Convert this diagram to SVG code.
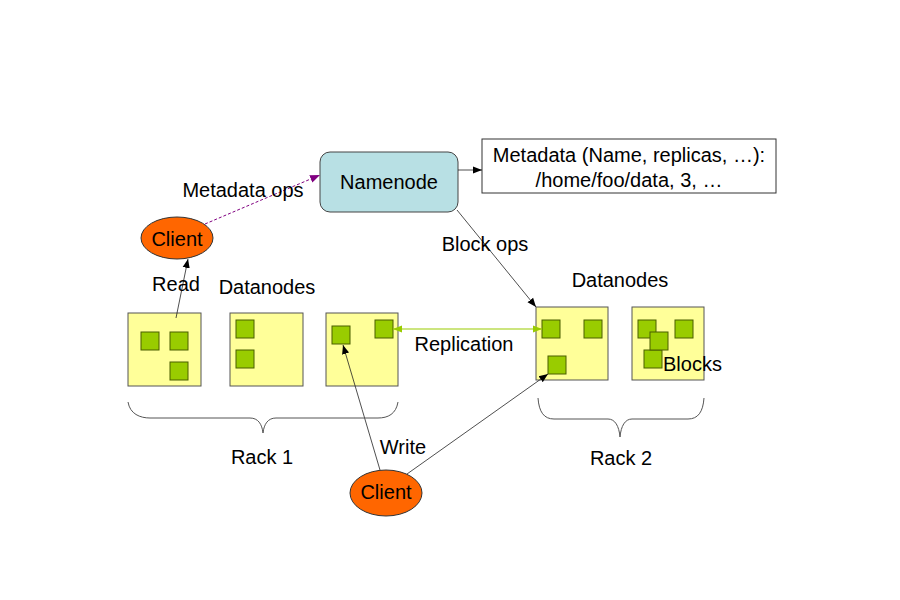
<svg xmlns="http://www.w3.org/2000/svg" width="900" height="600" viewBox="0 0 900 600">
<style>
text{font-family:"Liberation Sans",Arial,sans-serif;font-size:20px;fill:#000}
.dn{fill:#ffff99;stroke:#555;stroke-width:1}
.blk{fill:#99cc00;stroke:#4a5e00;stroke-width:1}
.cl{fill:#ff6600;stroke:#333;stroke-width:1}
.ln{stroke:#222;stroke-width:0.8;fill:none}
.br{stroke:#555;stroke-width:1;fill:none}
</style>
<defs>
<marker id="ab" viewBox="0 0 10 10" refX="10" refY="5" markerWidth="9" markerHeight="9" markerUnits="userSpaceOnUse" orient="auto"><path d="M0,1 L10,5 L0,9 z" fill="#000"/></marker>
<marker id="ap" viewBox="0 0 10 10" refX="10" refY="5" markerWidth="10" markerHeight="10" markerUnits="userSpaceOnUse" orient="auto"><path d="M0,1 L10,5 L0,9 z" fill="#800080"/></marker>
<marker id="ag" viewBox="0 0 10 10" refX="10" refY="5" markerWidth="9" markerHeight="9" markerUnits="userSpaceOnUse" orient="auto-start-reverse"><path d="M0,1 L10,5 L0,9 z" fill="#99cc00"/></marker>
</defs>
<rect width="900" height="600" fill="#fff"/>

<g id="namenode">
<rect x="320" y="152" width="138" height="60" rx="10" fill="#b8e0e4" stroke="#444"/>
<text x="389" y="189" text-anchor="middle">Namenode</text>
</g>
<g id="metadata">
<rect x="482" y="139" width="294" height="54" fill="#fff" stroke="#333"/>
<text x="629" y="162" text-anchor="middle">Metadata (Name, replicas, …):</text>
<text x="629" y="187" text-anchor="middle">/home/foo/data, 3, …</text>
</g>
<g id="client1">
<ellipse cx="177" cy="238" rx="36" ry="21" class="cl"/>
<text x="177" y="246" text-anchor="middle">Client</text>
</g>
<g id="client2">
<ellipse cx="386" cy="493" rx="36" ry="23" class="cl"/>
<text x="386" y="499" text-anchor="middle">Client</text>
</g>

<g id="rack1">
<g id="dn1"><rect x="128" y="313" width="73" height="73" class="dn"/>
<rect x="141" y="332" width="18" height="18" class="blk"/><rect x="170" y="332" width="18" height="18" class="blk"/><rect x="170" y="362" width="18" height="18" class="blk"/></g>
<g id="dn2"><rect x="230" y="313" width="73" height="73" class="dn"/>
<rect x="236" y="320" width="18" height="18" class="blk"/><rect x="236" y="350" width="18" height="18" class="blk"/></g>
<g id="dn3"><rect x="326" y="313" width="72" height="73" class="dn"/>
<rect x="332" y="326" width="18" height="18" class="blk"/><rect x="375" y="320" width="18" height="18" class="blk"/></g>
</g>
<g id="rack2">
<g id="dn4"><rect x="536" y="307" width="72" height="73" class="dn"/>
<rect x="542" y="320" width="18" height="18" class="blk"/><rect x="584" y="320" width="18" height="18" class="blk"/><rect x="548" y="356" width="18" height="18" class="blk"/></g>
<g id="dn5"><rect x="632" y="307" width="72" height="73" class="dn"/>
<rect x="638" y="320" width="18" height="18" class="blk"/><rect x="675" y="320" width="18" height="18" class="blk"/><rect x="644" y="350" width="18" height="18" class="blk"/><rect x="650" y="332" width="18" height="18" class="blk"/></g>
</g>

<g id="connectors">
<line x1="458" y1="170" x2="482" y2="170" class="ln" marker-end="url(#ab)"/>
<line x1="205" y1="224" x2="320" y2="175" stroke="#800080" stroke-width="1" stroke-dasharray="3,2" marker-end="url(#ap)"/>
<line x1="176" y1="318" x2="188" y2="259" class="ln" marker-end="url(#ab)"/>
<line x1="457" y1="210" x2="536" y2="307" class="ln" marker-end="url(#ab)"/>
<line x1="393" y1="329" x2="542" y2="329" stroke="#99cc00" stroke-width="1.2" marker-start="url(#ag)" marker-end="url(#ag)"/>
<line x1="380" y1="470" x2="343" y2="345" class="ln" marker-end="url(#ab)"/>
<line x1="407" y1="474" x2="548" y2="374" class="ln" marker-end="url(#ab)"/>
</g>

<g id="braces">
<path class="br" d="M128,402 C130,414 140,418 150,418 L250,418 C258,418 262,424 263,433 C264,424 268,418 276,418 L378,418 C388,418 396,414 398,402"/>
<path class="br" d="M538,398 C539,412 544,419 554,419 L608,419 C615,419 619,426 620,437 C621,426 625,419 632,419 L688,419 C698,419 703,412 704,398"/>
</g>

<g id="labels">
<text x="243" y="197" text-anchor="middle">Metadata ops</text>
<text x="176" y="291" text-anchor="middle">Read</text>
<text x="267" y="294" text-anchor="middle">Datanodes</text>
<text x="620" y="287" text-anchor="middle">Datanodes</text>
<text x="485" y="251" text-anchor="middle">Block ops</text>
<text x="464" y="351" text-anchor="middle">Replication</text>
<text x="663" y="371">Blocks</text>
<text x="262" y="464" text-anchor="middle">Rack 1</text>
<text x="621" y="465" text-anchor="middle">Rack 2</text>
<text x="403" y="454" text-anchor="middle">Write</text>
</g>
</svg>
